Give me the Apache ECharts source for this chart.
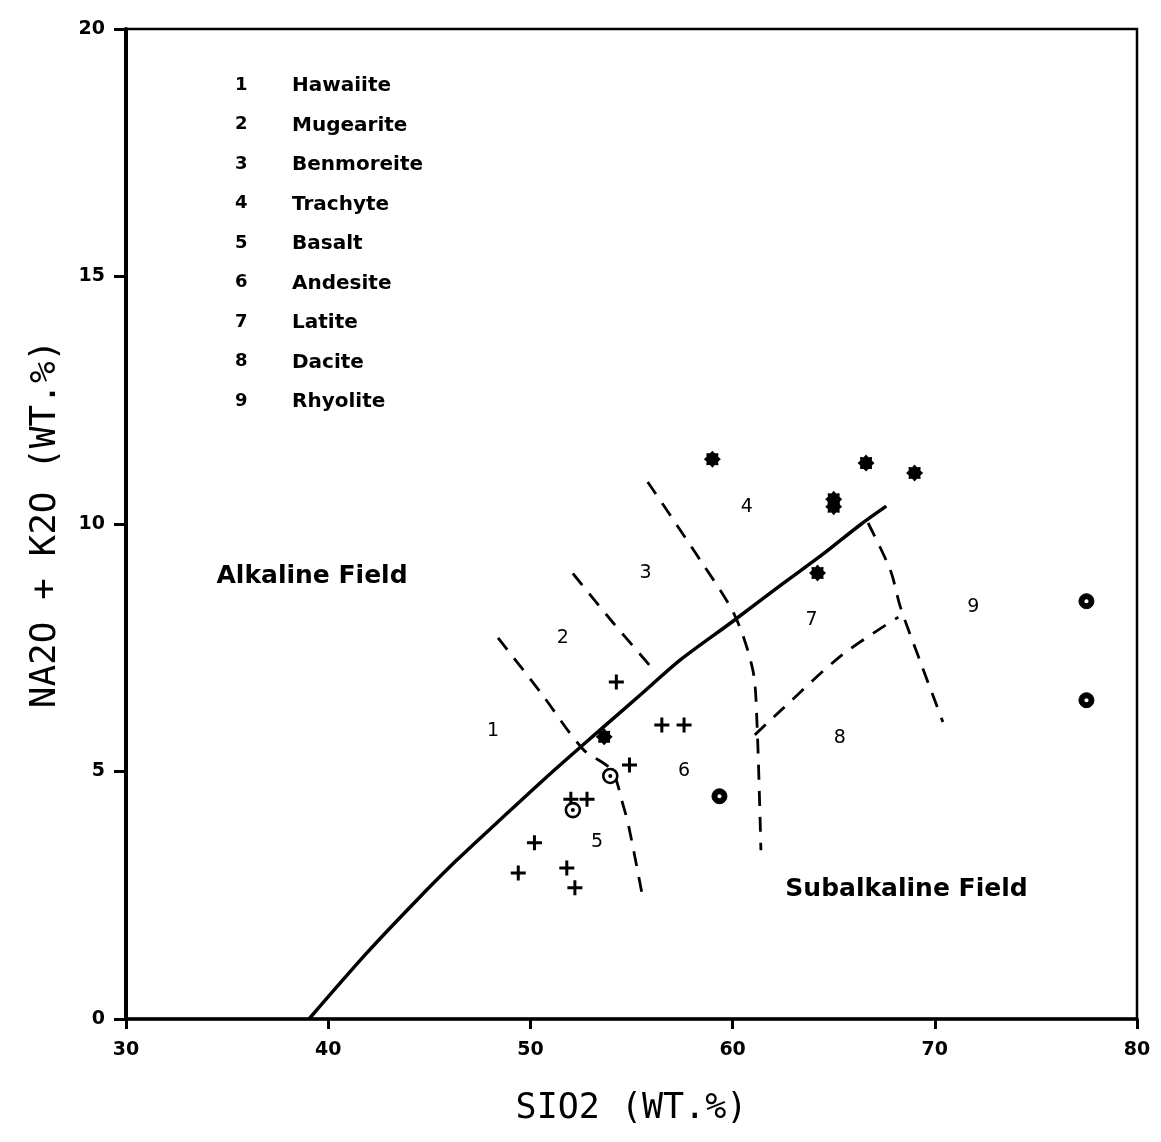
<!DOCTYPE html>
<html><head><meta charset="utf-8">
<script src="https://cdn.jsdelivr.net/npm/echarts@6/dist/echarts.min.js"></script>
<style>html,body{margin:0;padding:0;background:#fff}#c{width:1161px;height:1142px}</style>
</head><body><div id="c"></div>
<script>
// ---- data ----
const xTicks = [30, 40, 50, 60, 70, 80];
const yTicks = [0, 5, 10, 15, 20];
const alkalineDivide = [[39.05,0],[41.9,1.33],[44.38,2.40],[46.36,3.21],[48.49,4.02],[50.97,4.95],[53.45,5.84],[55.5,6.57],[57.4,7.25],[60,8.03],[62.4,8.77],[64.5,9.4],[66.3,9.98],[67.6,10.36]];
const bound1 = [[48.4,7.7],[50.5,6.6],[52.6,5.45],[54.0,5.03],[54.6,4.3],[54.9,3.82],[55.6,2.36]];
const bound2 = [[52.1,9.0],[54.1,8.0],[56.1,7.05]];
const bound3 = [[55.8,10.85],[58.4,9.27],[60.1,8.16],[61.0,7.05],[61.2,6.04],[61.4,3.41]];
const bound4 = [[61.1,5.74],[62.4,6.24],[65.4,7.35],[68.2,8.12]];
const bound5 = [[66.7,10.02],[67.8,9.07],[68.3,8.32],[69.3,7.2],[70.4,6.0]];
const plusPts = [[54.25,6.81],[54.9,5.13],[56.5,5.94],[57.6,5.94],[52.0,4.44],[52.8,4.44],[50.2,3.56],[49.4,2.95],[51.8,3.05],[52.2,2.65]];
const ringOpenPts = [[53.95,4.91],[52.1,4.22]];
const ringFilledPts = [[59.35,4.5],[77.5,8.44],[77.5,6.44]];
const starPts = [[53.65,5.70],[59.0,11.31],[65.0,10.5],[65.0,10.35],[66.6,11.23],[69.0,11.03],[64.2,9.01]];
const fieldNums = ['1','2','3','4','5','6','7','8','9'];
const fieldNames = ['Hawaiite','Mugearite','Benmoreite','Trachyte','Basalt','Andesite','Latite','Dacite','Rhyolite'];
const fieldLabelPos = [[48.15,5.82],[51.6,7.70],[55.7,9.01],[60.7,10.34],[53.3,3.58],[57.6,5.01],[63.9,8.06],[65.3,5.68],[71.9,8.32]];
const regionNames = ['Alkaline Field','Subalkaline Field'];
const regionPos = [[39.2,8.93],[68.6,2.61]];
const xTitle = 'SIO2 (WT.%)';
const yTitle = 'NA2O + K2O (WT.%)';

// ---- symbols ----
const plusPath = 'path://M4,0H6V4H10V6H6V10H4V6H0V4H4Z';
function starPath(){
  let p = [];
  for (let i = 0; i < 16; i++) {
    const r = i % 2 === 0 ? 10 : 7.4;
    const a = Math.PI * 2 * i / 16;
    p.push((10 + r * Math.cos(a)).toFixed(2) + ',' + (10 + r * Math.sin(a)).toFixed(2));
  }
  return 'path://M' + p.join('L') + 'Z';
}
const FONT = '"DejaVu Sans", Verdana, sans-serif';
const MONO = '"DejaVu Sans Mono", monospace';

function dashed(data){
  return {type:'line', data: data, symbol:'none', smooth:0.3, silent:true,
    lineStyle:{color:'#000', width:2.8, type:[15,11]}, z:3};
}

const chart = echarts.init(document.getElementById('c'), null, {renderer:'canvas'});
const graphics = [];
fieldNums.forEach((n, i) => {
  const y = 87 + 39.5 * i;
  graphics.push({type:'text', left:235, top:y-11, style:{text:n, font:'bold 18px ' + FONT, fill:'#000'}});
  graphics.push({type:'text', left:292, top:y-11, style:{text:fieldNames[i], font:'bold 20px ' + FONT, fill:'#000'}});
});

chart.setOption({
  animation:false,
  backgroundColor:'#fff',
  grid:{left:126, right:24, top:29, bottom:123, show:true, borderColor:'#000', borderWidth:2.5},
  xAxis:{type:'value', min:30, max:80, interval:10,
    axisLine:{show:true, onZero:false, lineStyle:{color:'#000', width:3.5}},
    axisTick:{show:true, length:10, lineStyle:{color:'#000', width:3}},
    splitLine:{show:false},
    axisLabel:{color:'#000', fontFamily:FONT, fontWeight:'bold', fontSize:19, margin:22,
      formatter: v => xTicks.includes(v) ? String(v) : ''},
    name:xTitle, nameLocation:'middle', nameGap:72,
    nameTextStyle:{color:'#000', fontFamily:MONO, fontSize:35}},
  yAxis:{type:'value', min:0, max:20, interval:5,
    axisLine:{show:true, onZero:false, lineStyle:{color:'#000', width:4}},
    axisTick:{show:true, length:12, lineStyle:{color:'#000', width:3}},
    splitLine:{show:false},
    axisLabel:{color:'#000', fontFamily:FONT, fontWeight:'bold', fontSize:19, margin:21,
      formatter: v => yTicks.includes(v) ? String(v) : ''},
    name:yTitle, nameLocation:'middle', nameGap:62,
    nameTextStyle:{color:'#000', fontFamily:MONO, fontSize:36}},
  graphic: graphics,
  series:[
    {type:'line', data:alkalineDivide, symbol:'none', smooth:0.3, silent:true,
      lineStyle:{color:'#000', width:3.5}, z:3},
    dashed(bound1), dashed(bound2), dashed(bound3), dashed(bound4), dashed(bound5),
    {type:'scatter', data:plusPts, symbol:plusPath, symbolSize:15,
      itemStyle:{color:'#000', opacity:1}, z:5},
    {type:'scatter', data:ringOpenPts, symbol:'circle', symbolSize:14,
      itemStyle:{color:'#fff', borderColor:'#000', borderWidth:2.6, opacity:1}, z:6},
    {type:'scatter', data:ringOpenPts, symbol:'circle', symbolSize:4,
      itemStyle:{color:'#000', opacity:1}, z:7},
    {type:'scatter', data:ringFilledPts, symbol:'circle', symbolSize:15,
      itemStyle:{color:'#000', borderColor:'#000', borderWidth:1, opacity:1}, z:6},
    {type:'scatter', data:ringFilledPts, symbol:'circle', symbolSize:4,
      itemStyle:{color:'#fff', opacity:1}, z:7},
    {type:'scatter', data:starPts, symbol:starPath(), symbolSize:17,
      itemStyle:{color:'#000', opacity:1}, z:5},
    {type:'scatter', data:fieldLabelPos.map((p,i)=>({value:p, name:fieldNums[i]})),
      symbolSize:0, silent:true, itemStyle:{opacity:1},
      label:{show:true, position:'inside', formatter: p => p.name,
        color:'#000', fontFamily:FONT, fontSize:19}, z:4},
    {type:'scatter', data:regionPos.map((p,i)=>({value:p, name:regionNames[i]})),
      symbolSize:0, silent:true, itemStyle:{opacity:1},
      label:{show:true, position:'inside', formatter: p => p.name,
        color:'#000', fontFamily:FONT, fontWeight:'bold', fontSize:25}, z:4}
  ]
});
</script></body></html>
